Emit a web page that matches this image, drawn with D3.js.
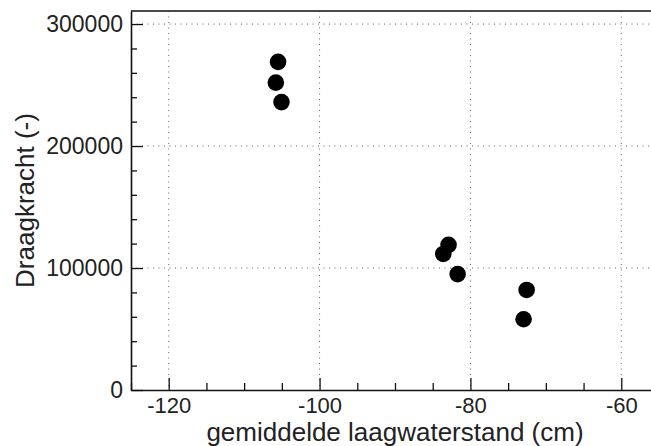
<!DOCTYPE html>
<html>
<head>
<meta charset="utf-8">
<script src="https://cdn.jsdelivr.net/npm/d3@7"></script>
<style>
  body { margin: 0; background: #fff; }
  svg { font-family: "Liberation Sans", Arial, Helvetica, sans-serif; }
</style>
</head>
<body>
<div class="chart"></div>
<script>
// gemiddelde laagwaterstand (cm) vs draagkracht
const waterstand = [-105.5, -105.8, -105.05, -82.9, -83.6, -81.7, -72.55, -72.95];
const draagkracht = [269000, 252000, 236000, 119000, 111500, 95000, 82000, 58000];

const xTicks = [-120, -100, -80, -60];
const yTicks = [0, 100000, 200000, 300000];

const width = 651;
const height = 446;
const mLeft = 131, mRight = 659, mTop = 11, mBottom = 390;

const x = d3.scaleLinear().domain([-125, -55]).range([mLeft, mRight]);
const y = d3.scaleLinear().domain([0, 310700]).range([mBottom, mTop]);

const svg = d3.select('.chart')
    .append('svg')
    .attr('width', width)
    .attr('height', height);

// grid
svg.append('g')
    .selectAll('line')
    .data(xTicks)
    .enter()
    .append('line')
    .attr('x1', d => x(d))
    .attr('x2', d => x(d))
    .attr('y1', mTop)
    .attr('y2', mBottom)
    .attr('stroke', '#666')
    .attr('stroke-width', 1)
    .attr('stroke-dasharray', '1,4.5');

svg.append('g')
    .selectAll('line')
    .data(yTicks.filter(d => d > 0))
    .enter()
    .append('line')
    .attr('x1', mLeft)
    .attr('x2', mRight)
    .attr('y1', d => y(d))
    .attr('y2', d => y(d))
    .attr('stroke', '#666')
    .attr('stroke-width', 1)
    .attr('stroke-dasharray', '1,4.5');

// frame top / right
svg.append('path')
    .attr('d', `M${mLeft},${mTop}H${mRight}V${mBottom}`)
    .attr('fill', 'none')
    .attr('stroke', '#111')
    .attr('stroke-width', 1.6);

// minor ticks
const xMinor = d3.range(-125, -54, 5).filter(d => !xTicks.includes(d));
const yMinor = d3.range(0, 310001, 20000).filter(d => !yTicks.includes(d));

svg.append('g')
    .attr('transform', `translate(0,${mBottom})`)
    .call(d3.axisBottom(x).tickValues(xMinor).tickFormat('').tickSize(-7).tickSizeOuter(0))
    .call(g => g.select('.domain').remove())
    .selectAll('line').attr('stroke', '#111').attr('stroke-width', 1.3);

svg.append('g')
    .attr('transform', `translate(${mLeft},0)`)
    .call(d3.axisLeft(y).tickValues(yMinor).tickFormat('').tickSize(-6).tickSizeOuter(0))
    .call(g => g.select('.domain').remove())
    .selectAll('line').attr('stroke', '#111').attr('stroke-width', 1.3);

// major axes
const xAxis = svg.append('g')
    .attr('transform', `translate(0,${mBottom})`)
    .call(d3.axisBottom(x).tickValues(xTicks).tickSize(-12).tickSizeOuter(0).tickPadding(7.5));

const yAxis = svg.append('g')
    .attr('transform', `translate(${mLeft},0)`)
    .call(d3.axisLeft(y).tickValues(yTicks).tickFormat(d3.format('d')).tickSize(-12).tickSizeOuter(0).tickPadding(8));

[xAxis, yAxis].forEach(g => {
    g.select('.domain').attr('stroke', '#111').attr('stroke-width', 1.6);
    g.selectAll('line').attr('stroke', '#111').attr('stroke-width', 1.3);
    g.selectAll('text')
        .attr('font-size', 22)
        .attr('fill', '#222')
        .attr('font-family', '"Liberation Sans", Arial, sans-serif');
});
yAxis.selectAll('text').attr('font-size', 23);
xAxis.selectAll('text').text(d => d < 0 ? '-' + Math.abs(d) : d);

// points
svg.append('g')
    .selectAll('circle')
    .data(waterstand)
    .enter()
    .append('circle')
    .attr('cx', (d, i) => x(d))
    .attr('cy', (d, i) => y(draagkracht[i]))
    .attr('r', 8.3)
    .attr('fill', '#000');

// axis titles
svg.append('text')
    .attr('x', (mLeft + mRight) / 2)
    .attr('y', 441)
    .attr('text-anchor', 'middle')
    .attr('font-size', 26)
    .attr('fill', '#222')
    .text('gemiddelde laagwaterstand (cm)');

svg.append('text')
    .attr('transform', `translate(34,${(mTop + mBottom) / 2}) rotate(-90)`)
    .attr('text-anchor', 'middle')
    .attr('font-size', 26)
    .attr('fill', '#222')
    .text('Draagkracht (-)');
</script>
</body>
</html>
